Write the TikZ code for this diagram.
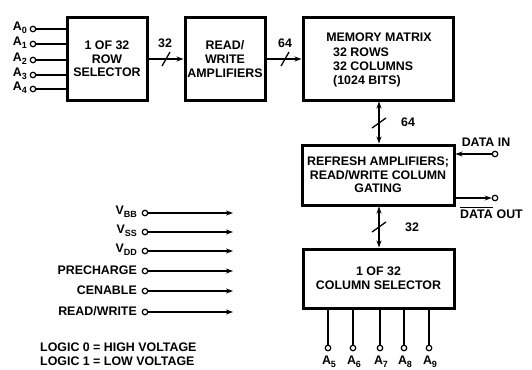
\documentclass[tikz,border=0pt]{standalone}
\usepackage{fontspec}
\setmainfont{Liberation Sans}[BoldFont={Liberation Sans Bold}]
\usetikzlibrary{arrows.meta}
\newcommand{\lsub}[1]{\raisebox{-0.5ex}{\fontsize{9}{9}\selectfont #1}}
\begin{document}
\begin{tikzpicture}[x=1pt,y=-1pt,
  font=\fontsize{12.4}{13.6}\selectfont\bfseries,
  blk/.style={draw, line width=3pt, inner sep=0pt, align=center},
  pin/.style={circle, draw, line width=1.2pt, minimum size=5.5pt, inner sep=0pt},
  wire/.style={line width=1.5pt},
  arr/.style={line width=1.5pt, -{Stealth[length=7pt,width=5pt]}},
  darr/.style={line width=1.5pt, {Stealth[length=7pt,width=5pt]}-{Stealth[length=7pt,width=5pt]}},
  bus/.style={line width=1.3pt},
  lbl/.style={inner sep=0pt}]
\useasboundingbox (0,0) rectangle (532,369);

% blocks
\node[blk, minimum width=80pt, minimum height=82pt] (row) at (107,59) {1 OF 32\\ROW\\SELECTOR};
\node[blk, minimum width=80pt, minimum height=82pt] (rw) at (225,59) {READ/\\WRITE\\AMPLIFIERS};
\node[blk, minimum width=150pt, minimum height=82pt] (mem) at (378,59) {};
\node[lbl] (memt) at (379,37) {MEMORY MATRIX};
\node[lbl, align=left, anchor=north west] (memb) at (333,48) {32 ROWS\\32 COLUMNS\\(1024 BITS)};
\node[blk, minimum width=152pt, minimum height=60pt] (ref) at (378,175) {REFRESH AMPLIFIERS;\\READ/WRITE COLUMN\\GATING};
\node[blk, minimum width=151pt, minimum height=59pt] (col) at (378.5,278.5) {1 OF 32\\COLUMN SELECTOR};

% row address inputs
\foreach \i/\y in {0/29,1/44,2/60,3/75,4/89}{
  \node[pin] (a\i) at (33,\y) {};
  \node[lbl, anchor=east] (la\i) at (27,\y-1) {A\lsub{\i}};
  \draw[wire] (a\i) -- (a\i -| row.west);
}

% horizontal buses
\draw[arr] (row.east) -- (rw.west);
\coordinate (s1) at (166,59);
\draw[bus] ([shift={(-4,7)}]s1) -- ([shift={(4,-7)}]s1);
\node[lbl] (n32a) at (165,43) {32};
\draw[arr] (rw.east) -- (mem.west);
\coordinate (s2) at (285,59);
\draw[bus] ([shift={(-4,7)}]s2) -- ([shift={(4,-7)}]s2);
\node[lbl] (n64a) at (285,43) {64};

% vertical buses
\draw[darr] ([xshift=1pt]mem.south) -- ([xshift=1pt]ref.north);
\coordinate (s3) at (379,123);
\draw[bus] ([shift={(-7,5)}]s3) -- ([shift={(7,-5)}]s3);
\node[lbl] (n64b) at (408,122) {64};
\draw[darr] ([xshift=1pt]ref.south) -- ([xshift=0.5pt]col.north);
\coordinate (s4) at (379,227);
\draw[bus] ([shift={(-7,5)}]s4) -- ([shift={(7,-5)}]s4);
\node[lbl] (n32b) at (412,227) {32};

% data in/out
\node[pin] (din) at (495,154) {};
\draw[arr] (din) -- (din -| ref.east);
\node[lbl] (ldin) at (486,142) {DATA IN};
\node[pin] (dout) at (495,198) {};
\draw[arr] (ref.east |- dout) -- (dout.west);
\node[lbl, anchor=base west] (ldata) at (460,218) {DATA};
\node[lbl, anchor=base west] (lout) at ([xshift=3.4pt]ldata.base east) {OUT};
\draw[line width=1.1pt] ([yshift=2pt]ldata.north west) -- ([yshift=2pt]ldata.north east);

% column address inputs
\foreach \i/\x in {5/328,6/353,7/380,8/404,9/429}{
  \node[pin] (c\i) at (\x,348) {};
  \draw[wire] (col.south -| c\i) -- (c\i);
  \node[lbl] (lc\i) at (\x+1,362) {A\lsub{\i}};
}

% control signals
\foreach \n/\y/\t in {vbb/213/{V\lsub{BB}}, vss/232/{V\lsub{SS}}, vdd/251/{V\lsub{DD}}, pre/271/{PRECHARGE}, cen/291/{CENABLE}, rdw/312/{READ/WRITE}}{
  \node[pin] (p\n) at (145,\y) {};
  \coordinate (e\n) at (233,\y);
  \draw[arr] (p\n) -- (e\n);
  \node[lbl, anchor=east] (l\n) at (137,\y-1) {\t};
}

\node[lbl, anchor=west] (lg0) at (40,347) {LOGIC 0 = HIGH VOLTAGE};
\node[lbl, anchor=west] (lg1) at (40,361) {LOGIC 1 = LOW VOLTAGE};
\end{tikzpicture}
\end{document}
